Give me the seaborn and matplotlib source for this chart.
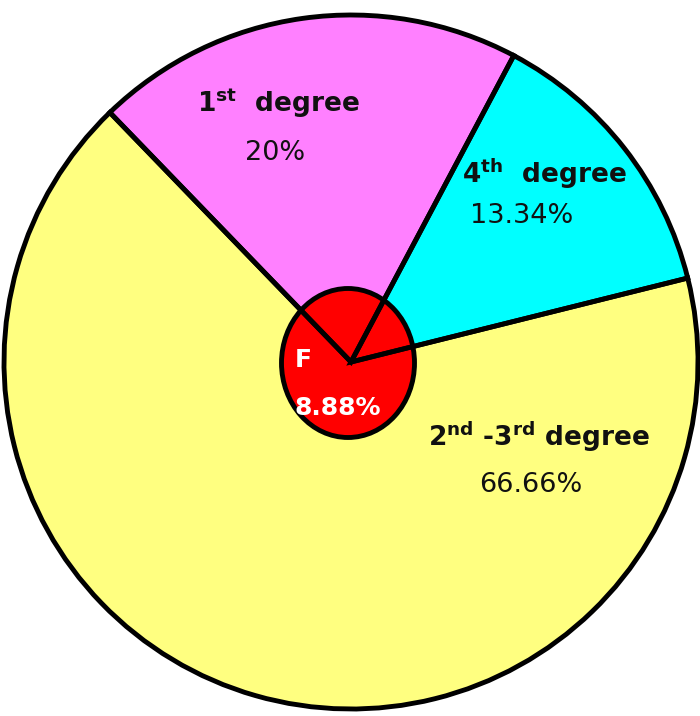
import matplotlib
matplotlib.use("Agg")
import matplotlib.pyplot as plt
from matplotlib.patches import Ellipse
import seaborn as sns

# data
degrees = ["4th degree", "1st degree", "2nd-3rd degree"]
shares = [13.34, 20.0, 66.66]
core_label = "F"
core_share = 8.88

# display labels with superscripts
label_text = [r"$\mathbf{4^{th}}$  degree",
              r"$\mathbf{1^{st}}$  degree",
              r"$\mathbf{2^{nd}}$ -$\mathbf{3^{rd}}$ degree"]
palette = ["#00FFFF", "#FF80FF", "#FFFF80"]

sns.set_theme(style="white")
plt.rcParams["font.family"] = ["DejaVu Sans"]
plt.rcParams["mathtext.fontset"] = "dejavusans"

W, H = 700, 716
fig = plt.figure(figsize=(W / 100, H / 100), dpi=100)
ax = fig.add_axes([0, 0, 1, 1])

cx, cy, r = 351, H - 362, 347
start = 14

# filled wedges first, then the red core, then the black outlines on top
ax.pie(shares, colors=palette, startangle=start, center=(cx, cy), radius=r,
       frame=True, wedgeprops=dict(linewidth=0, zorder=1))
core = Ellipse((348, H - 363), 133, 149, facecolor="#FF0000",
               edgecolor="black", linewidth=3.5, zorder=2)
ax.add_patch(core)
ax.pie(shares, startangle=start, center=(cx, cy), radius=r, frame=True,
       wedgeprops=dict(fill=False, edgecolor="black", linewidth=3.5, zorder=3))

# slice labels (baseline positions in pixel coords)
name_pos = [(544, 183), (278, 112), (539, 446)]
pct_pos = [(522, 223), (275, 160), (531, 492)]
for txt, share, (nx, ny), (px, py) in zip(label_text, shares, name_pos, pct_pos):
    ax.text(nx, H - ny, txt, ha="center", va="baseline", fontsize=19,
            fontweight="bold", color="#111111", zorder=4)
    ax.text(px, H - py, "{:g}%".format(share), ha="center", va="baseline",
            fontsize=19.5, color="#111111", zorder=4)

ax.text(303, H - 367, core_label, ha="center", va="baseline", fontsize=18,
        fontweight="bold", color="white", zorder=4)
ax.text(338, H - 415, "{:g}%".format(core_share), ha="center", va="baseline",
        fontsize=18, fontweight="bold", color="white", zorder=4)

ax.set_xlim(0, W)
ax.set_ylim(0, H)
ax.set_aspect("equal")
ax.axis("off")

fig.savefig("out.png", dpi=100, facecolor="white")
